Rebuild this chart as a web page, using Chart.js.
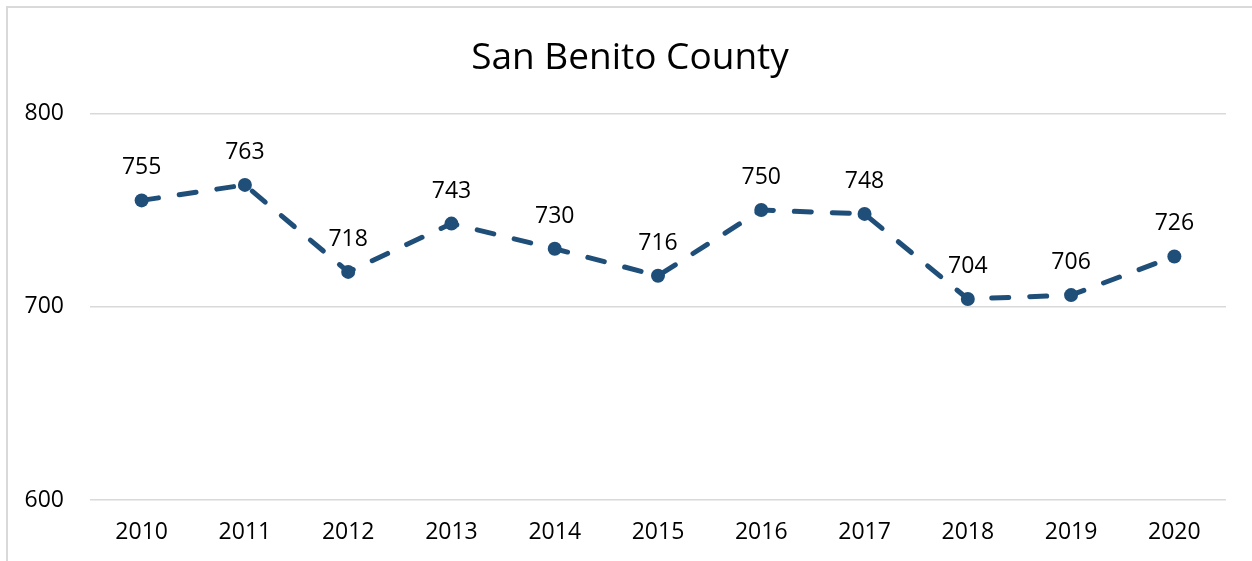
<!DOCTYPE html>
<html>
<head>
<meta charset="utf-8">
<title>San Benito County</title>
<script src="https://cdn.jsdelivr.net/npm/chart.js@4.4.1/dist/chart.umd.min.js"></script>
<style>
    html, body { margin: 0; padding: 0; background: #fff; }
    #wrap { width: 1252px; height: 561px; position: relative; }
</style>
</head>
<body>
<div id="wrap"><canvas id="chart"></canvas></div>
<script>
// chart data
const years = ['2010', '2011', '2012', '2013', '2014', '2015', '2016', '2017', '2018', '2019', '2020'];
const values = [755, 763, 718, 743, 730, 716, 750, 748, 704, 706, 726];
const yTicks = [600, 700, 800];

const lineColor = '#1F4E79';
const fontFamily = "'Open Sans', 'Noto Sans', sans-serif";

// light frame round the chart, like the Excel chart area
const framePlugin = {
    id: 'frame',
    beforeDraw(chart) {
        const ctx = chart.ctx;
        ctx.save();
        ctx.strokeStyle = '#d9d9d9';
        ctx.lineWidth = 2;
        ctx.strokeRect(7, 7, chart.width + 20, chart.height + 20);
        ctx.restore();
    }
};

// value labels above each point
const valueLabels = {
    id: 'valueLabels',
    afterDatasetsDraw(chart) {
        const ctx = chart.ctx;
        const meta = chart.getDatasetMeta(0);
        ctx.save();
        ctx.font = '23px ' + fontFamily;
        ctx.fillStyle = '#000';
        ctx.textAlign = 'center';
        ctx.textBaseline = 'alphabetic';
        meta.data.forEach((pt, i) => {
            ctx.fillText(String(values[i]), pt.x, pt.y - 26);
        });
        ctx.restore();
    }
};

new Chart(document.querySelector('#chart'), {
    type: 'line',
    data: {
        labels: years,
        datasets: [{
            label: 'San Benito County',
            data: values,
            borderColor: lineColor,
            backgroundColor: lineColor,
            borderWidth: 5,
            borderDash: [17, 21],
            borderCapStyle: 'round',
            pointRadius: 7,
            pointHoverRadius: 7,
            pointBackgroundColor: lineColor,
            pointBorderWidth: 0,
            tension: 0,
            clip: false
        }]
    },
    options: {
        responsive: true,
        maintainAspectRatio: false,
        animation: false,
        layout: { padding: { left: 8, right: 0, top: 0, bottom: 0 } },
        plugins: {
            legend: { display: false },
            tooltip: { enabled: false },
            title: {
                display: true,
                text: 'San Benito County',
                color: '#000',
                font: { family: fontFamily, size: 37, weight: 'normal' },
                padding: { top: 36, bottom: 33 }
            }
        },
        scales: {
            x: {
                offset: true,
                grid: { display: false, drawTicks: false },
                border: { display: false },
                ticks: {
                    color: '#000',
                    padding: 19,
                    font: { family: fontFamily, size: 23 }
                },
                afterFit(s) { s.height = 61; }
            },
            y: {
                min: 600,
                max: 800,
                afterBuildTicks(s) { s.ticks = yTicks.map(v => ({ value: v })); },
                grid: { color: '#d9d9d9', lineWidth: 1.5, drawTicks: false },
                border: { display: false },
                ticks: {
                    color: '#000',
                    padding: 26,
                    font: { family: fontFamily, size: 23 }
                },
                afterFit(s) { s.width = 82; }
            },
            // empty right-hand strip to keep the plot off the right edge
            yRight: {
                position: 'right',
                min: 600,
                max: 800,
                grid: { display: false, drawTicks: false },
                border: { display: false },
                ticks: { display: false },
                afterFit(s) { s.width = 26; }
            }
        }
    },
    plugins: [framePlugin, valueLabels]
});
</script>
</body>
</html>
